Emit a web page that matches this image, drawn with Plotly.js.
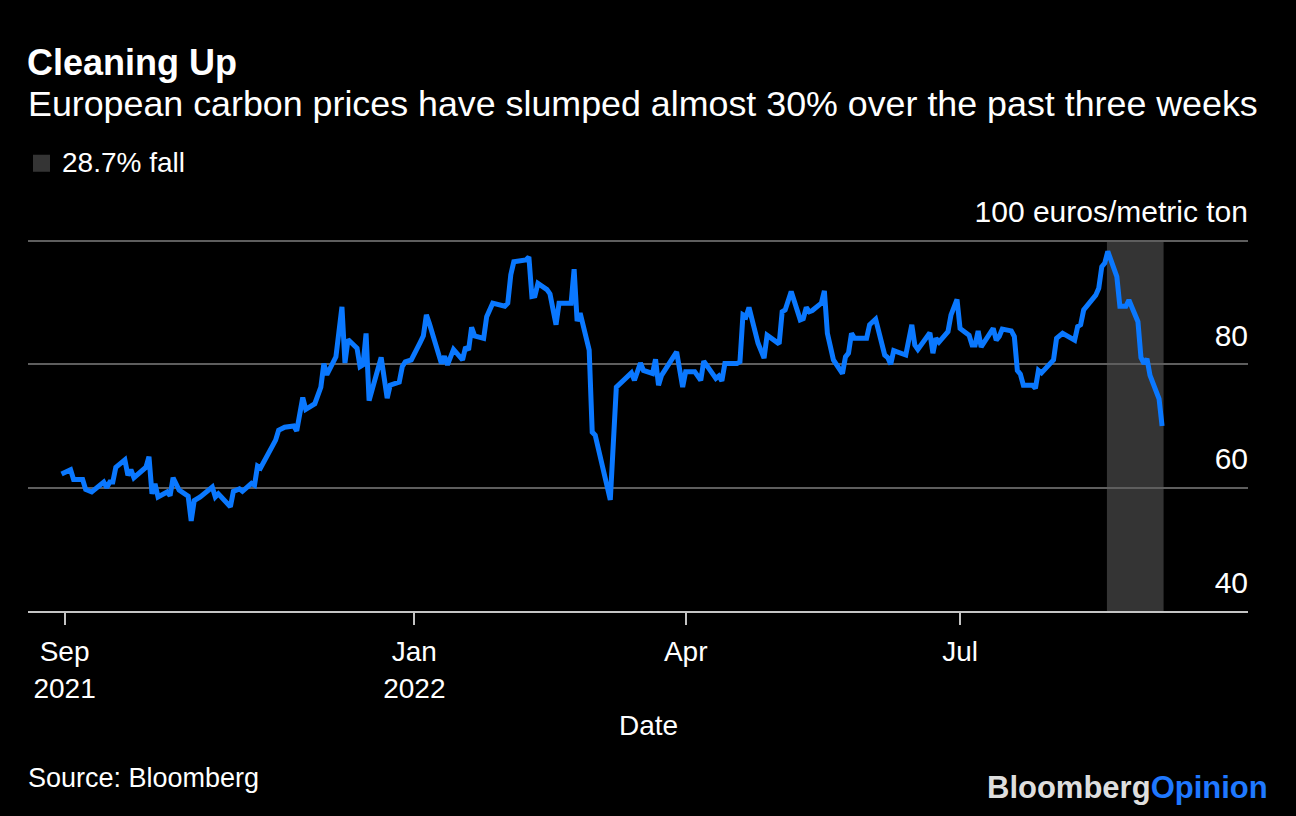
<!DOCTYPE html>
<html>
<head>
<meta charset="utf-8">
<script src="https://cdn.plot.ly/plotly-3.0.1.min.js"></script>
<style>
  html, body { margin: 0; padding: 0; background: #000; }
  #chart { width: 1296px; height: 816px; }
</style>
</head>
<body>
<div id="chart"></div>
<script>
// ---- Data ----
const dates = [
  '2021-09-06','2021-09-09','2021-09-10','2021-09-13','2021-09-14','2021-09-16','2021-09-20','2021-09-21','2021-09-22','2021-09-23',
  '2021-09-24','2021-09-27','2021-09-28','2021-09-29','2021-09-30','2021-10-04','2021-10-05','2021-10-06','2021-10-07','2021-10-08',
  '2021-10-11','2021-10-12','2021-10-13','2021-10-15','2021-10-18','2021-10-19','2021-10-20','2021-10-22','2021-10-26','2021-10-27',
  '2021-10-28','2021-11-01','2021-11-02','2021-11-04','2021-11-05','2021-11-08','2021-11-09','2021-11-10','2021-11-11','2021-11-15',
  '2021-11-16','2021-11-17','2021-11-19','2021-11-22','2021-11-23','2021-11-25','2021-11-26','2021-11-29','2021-12-01','2021-12-02',
  '2021-12-03','2021-12-06','2021-12-08','2021-12-09','2021-12-10','2021-12-13','2021-12-14','2021-12-15','2021-12-16','2021-12-17',
  '2021-12-21','2021-12-23','2021-12-24','2021-12-27','2021-12-28','2021-12-29','2021-12-31','2022-01-03','2022-01-04','2022-01-05',
  '2022-01-06','2022-01-10','2022-01-11','2022-01-12','2022-01-14','2022-01-17','2022-01-18','2022-01-19','2022-01-20','2022-01-21',
  '2022-01-24','2022-01-25','2022-01-27','2022-01-31','2022-02-01','2022-02-02','2022-02-03','2022-02-07','2022-02-08','2022-02-09',
  '2022-02-10','2022-02-11','2022-02-14','2022-02-15','2022-02-17','2022-02-18','2022-02-22','2022-02-23','2022-02-24','2022-02-25',
  '2022-02-28','2022-03-01','2022-03-02','2022-03-07','2022-03-08','2022-03-09','2022-03-14','2022-03-15','2022-03-17','2022-03-18',
  '2022-03-21','2022-03-22','2022-03-23','2022-03-24','2022-03-29','2022-03-31','2022-04-01','2022-04-04','2022-04-06','2022-04-07',
  '2022-04-11','2022-04-12','2022-04-13','2022-04-14','2022-04-18','2022-04-19','2022-04-20','2022-04-21','2022-04-22','2022-04-25',
  '2022-04-27','2022-04-28','2022-05-02','2022-05-03','2022-05-04','2022-05-06','2022-05-09','2022-05-10','2022-05-11','2022-05-12',
  '2022-05-13','2022-05-16','2022-05-17','2022-05-18','2022-05-20','2022-05-23','2022-05-24','2022-05-25','2022-05-26','2022-05-27',
  '2022-05-31','2022-06-01','2022-06-03','2022-06-06','2022-06-07','2022-06-08','2022-06-09','2022-06-13','2022-06-15','2022-06-16',
  '2022-06-17','2022-06-21','2022-06-22','2022-06-23','2022-06-24','2022-06-27','2022-06-28','2022-06-30','2022-07-01','2022-07-04',
  '2022-07-05','2022-07-06','2022-07-07','2022-07-08','2022-07-12','2022-07-13','2022-07-14','2022-07-15','2022-07-18','2022-07-19',
  '2022-07-20','2022-07-21','2022-07-22','2022-07-25','2022-07-26','2022-07-27','2022-07-28','2022-08-01','2022-08-02','2022-08-04',
  '2022-08-08','2022-08-09','2022-08-10','2022-08-11','2022-08-15','2022-08-16','2022-08-17','2022-08-18','2022-08-19','2022-08-22',
  '2022-08-23','2022-08-25','2022-08-26','2022-08-29','2022-08-30','2022-08-31','2022-09-01','2022-09-02','2022-09-05','2022-09-06'
];
const prices = [
  62.2,62.9,61.3,61.3,59.7,59.3,60.9,60.0,60.9,60.9,
  63.3,64.5,62.0,62.9,61.6,63.3,65.0,59.0,60.6,58.5,
  59.3,58.7,61.6,59.6,58.6,54.6,57.9,58.5,60.1,58.5,
  59.0,56.9,59.4,59.8,59.4,60.7,60.4,63.5,63.2,67.1,
  67.7,69.3,69.8,70.0,69.2,74.6,72.7,73.6,76.3,80.1,
  78.3,81.2,89.3,80.2,84.0,82.6,79.6,79.9,85.0,74.1,
  81.1,74.5,76.6,77.1,79.6,80.4,80.7,83.6,84.6,88.0,
  86.6,80.1,81.3,79.9,82.4,80.7,82.8,82.3,86.0,84.6,
  84.2,87.7,89.9,89.4,89.9,94.5,96.6,96.9,97.4,91.0,
  91.1,93.1,92.1,91.4,86.4,89.9,89.9,95.4,87.0,88.3,
  82.3,69.0,68.5,58.0,66.6,76.3,78.6,77.4,80.2,79.0,
  78.5,80.8,76.6,78.2,82.0,76.3,78.8,78.8,77.4,80.5,
  77.7,78.1,77.3,80.1,80.1,80.4,88.0,87.7,89.2,83.4,
  81.0,84.7,83.3,88.5,88.8,91.8,87.2,87.4,89.2,88.5,
  88.7,89.9,91.9,85.0,80.7,78.5,81.2,81.8,85.0,84.2,
  84.2,86.4,87.3,81.5,81.1,80.0,82.2,81.5,86.4,83.1,
  82.4,85.1,81.8,84.2,83.6,85.3,88.0,90.5,85.8,84.7,
  83.1,83.1,85.4,82.8,85.8,83.9,84.5,85.7,85.4,84.5,
  79.0,78.4,76.6,76.6,76.1,79.0,78.6,80.7,84.2,85.0,
  83.9,86.1,86.4,88.8,91.2,92.3,95.8,96.4,98.3,94.2,
  89.4,89.4,90.4,86.9,81.1,80.1,80.9,78.2,74.4,70.0
];
const fallWindow = ['2022-08-18 17:00', '2022-09-06 12:00'];
const fallLabel = '28.7% fall';
const xTickVals = ['2021-09-07', '2022-01-01', '2022-04-01', '2022-07-01'];
const xTickText = ['Sep<br>2021', 'Jan<br>2022', 'Apr', 'Jul'];
const yTickVals = [40, 60, 80, 100];
const yTickText = ['40', '60', '80', '100 euros/metric ton'];
const yRange = [40, 100.3];

// ---- Layout helpers (pixel -> paper) ----
const W = 1296, H = 816;
const L = 28, R = 1248, B = 610.7;
const PX_PER_UNIT = 6.158;
const T = 241 - (yRange[1] - 100) * PX_PER_UNIT;   // so that the 100 gridline sits at y=241
const px = x => (x - L) / (R - L);
const py = y => (B - y) / (B - T);

const FONT = '"Liberation Sans", Arial, Helvetica, sans-serif';
const BLUE = '#0a78ff';

const traces = [{
  type: 'scatter',
  mode: 'lines',
  x: dates,
  y: prices,
  line: { color: BLUE, width: 5, shape: 'linear' },
  showlegend: false,
  hoverinfo: 'x+y'
}];

const layout = {
  width: W, height: H,
  paper_bgcolor: '#000', plot_bgcolor: '#000',
  margin: { l: L, r: W - R, t: T, b: H - B, pad: 0 },
  font: { family: FONT, color: '#ffffff', size: 28 },
  showlegend: false,
  title: {
    text: '<b>Cleaning Up</b>',
    font: { family: FONT, size: 36, color: '#ffffff' },
    x: (L - 1) / W, xref: 'container', xanchor: 'left',
    y: 1 - 62 / H, yref: 'container', yanchor: 'middle'
  },
  xaxis: {
    type: 'date',
    range: ['2021-08-25 21:00', '2022-10-04 12:00'],
    tickmode: 'array', tickvals: xTickVals, ticktext: xTickText,
    showgrid: false, zeroline: false,
    showline: true, linecolor: '#c4c4c4', linewidth: 1.5,
    ticks: 'outside', ticklen: 12, tickwidth: 1.5, tickcolor: '#c4c4c4',
    ticklabelstandoff: 3,
    tickfont: { family: FONT, size: 28, color: '#ffffff' },
    automargin: false, fixedrange: true
  },
  yaxis: {
    range: yRange,
    side: 'right',
    tickmode: 'array', tickvals: yTickVals, ticktext: yTickText,
    ticks: '', ticklabelposition: 'inside top', ticklabeloverflow: 'allow',
    ticklabelshift: -8, ticklabelstandoff: -3,
    tickfont: { family: FONT, size: 30, color: '#ffffff' },
    showgrid: true, gridcolor: '#5e5e5e', gridwidth: 2,
    zeroline: false, showline: false,
    automargin: false, fixedrange: true
  },
  shapes: [
    { type: 'rect', xref: 'x', yref: 'y', x0: fallWindow[0], x1: fallWindow[1], y0: 40, y1: 100,
      fillcolor: '#343434', line: { width: 0 }, layer: 'below' },
    { type: 'rect', xref: 'paper', yref: 'paper', x0: px(33), x1: px(50), y0: py(172), y1: py(155),
      fillcolor: '#343434', line: { width: 0 } }
  ],
  annotations: [
    { text: 'European carbon prices have slumped almost 30% over the past three weeks',
      xref: 'paper', yref: 'paper', x: px(26), y: py(104), xanchor: 'left', yanchor: 'middle',
      showarrow: false, font: { family: FONT, size: 35.8, color: '#ffffff' } },
    { text: fallLabel, xref: 'paper', yref: 'paper', x: px(60), y: py(163), xanchor: 'left', yanchor: 'middle',
      showarrow: false, font: { family: FONT, size: 28, color: '#ffffff' } },
    { text: 'Date', xref: 'paper', yref: 'paper', x: px(648), y: py(725), xanchor: 'center', yanchor: 'middle',
      showarrow: false, font: { family: FONT, size: 28, color: '#ffffff' } },
    { text: 'Source: Bloomberg', xref: 'paper', yref: 'paper', x: px(26), y: py(777), xanchor: 'left', yanchor: 'middle',
      showarrow: false, font: { family: FONT, size: 27, color: '#ffffff' } },
    { text: '<b><span style="color:#dedede">Bloomberg</span><span style="color:#1f78ff">Opinion</span></b>',
      xref: 'paper', yref: 'paper', x: px(1270), y: py(787), xanchor: 'right', yanchor: 'middle',
      showarrow: false, font: { family: FONT, size: 31, color: '#dedede' } }
  ]
};

Plotly.newPlot('chart', traces, layout, { displayModeBar: false, responsive: false });
</script>
</body>
</html>
